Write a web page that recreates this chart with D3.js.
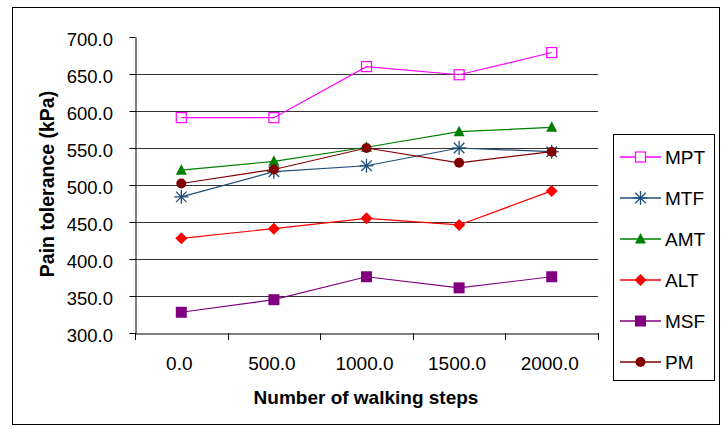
<!DOCTYPE html>
<html><head><meta charset="utf-8">
<script src="https://cdn.jsdelivr.net/npm/d3@7"></script>
<style>body{margin:0;background:#fff}svg{display:block}text{font-family:"Liberation Sans",Arial,sans-serif}</style>
</head><body><svg id="c" width="727" height="430"></svg>
<script>
const categories = ["0.0","500.0","1000.0","1500.0","2000.0"];
const yTicks = [300,350,400,450,500,550,600,650,700];
const MPT = [591,591,660,649,679];
const MTF = [484,518,526,550,545];
const AMT = [520,532,551,572,578];
const ALT = [428,441,455,446,492];
const MSF = [328,345,376,361,376];
const PM  = [502,521,550,530,545];
const seriesNames = ["MPT","MTF","AMT","ALT","MSF","PM"];
const seriesValues = [MPT,MTF,AMT,ALT,MSF,PM];
const colors = {MPT:"#FF00FF",MTF:"#1F4E79",AMT:"#008000",ALT:"#FF0000",MSF:"#800080",PM:"#800000"};

const svg = d3.select("#c");
svg.append("rect").attr("x",12.5).attr("y",7.5).attr("width",707).attr("height",417).attr("fill","none").attr("stroke","#000").attr("stroke-width",1);

const L=135, R=598, T=37, B=333;
const x = d3.scaleBand().domain(categories).range([L,R]);
const y = d3.scaleLinear().domain([300,700]).range([B,T]);

// gridlines
svg.append("g").selectAll("line").data(yTicks.filter(v=>v>300&&v<700)).join("line")
  .attr("x1",L).attr("x2",R).attr("y1",d=>Math.round(y(d))+0.5).attr("y2",d=>Math.round(y(d))+0.5)
  .attr("stroke","#333").attr("stroke-width",1);

// y axis
const ya = svg.append("g").attr("transform",`translate(${L+0.5},0)`)
  .call(d3.axisLeft(y).tickValues(yTicks).tickFormat(d3.format(".1f")).tickSize(6).tickSizeOuter(0));
ya.select(".domain").attr("stroke","#000");
ya.selectAll(".tick text").attr("font-size",18.5).attr("fill","#000").attr("x",-22.5).attr("dy","0.45em").attr("font-family","Liberation Sans, Arial");
ya.selectAll(".tick line").attr("stroke","#000");

// x axis
const xa = svg.append("g").attr("transform",`translate(0,${B+0.5})`)
  .call(d3.axisBottom(x).tickSize(0).tickSizeOuter(0));
xa.select(".domain").attr("stroke","#000");
xa.selectAll(".tick text").attr("font-size",19).attr("fill","#000").attr("dy",0).attr("y",36.5).attr("x",-2).attr("font-family","Liberation Sans, Arial");
// boundary ticks
const bounds = categories.map(c=>x(c)).concat([R]);
svg.append("g").selectAll("line").data(bounds).join("line")
  .attr("x1",d=>Math.round(d)+0.5).attr("x2",d=>Math.round(d)+0.5).attr("y1",B).attr("y2",B+7).attr("stroke","#000");

// titles
svg.append("text").attr("x",366).attr("y",404).attr("text-anchor","middle").attr("font-size",19).attr("font-weight","bold").text("Number of walking steps");
svg.append("text").attr("transform","translate(54,184) rotate(-90)").attr("text-anchor","middle").attr("font-size",19.5).attr("font-weight","bold").text("Pain tolerance (kPa)");

function marker(g, name, cx, cy, legend){
  const c = colors[name];
  if(name==="MPT"){
    g.append("rect").attr("x",cx-5).attr("y",cy-5).attr("width",10).attr("height",10).attr("fill","#fff").attr("fill-opacity",legend?1:0).attr("stroke",c).attr("stroke-width",1.2);
  } else if(name==="MTF"){
    const s=7;
    const p = g.append("g").attr("stroke",c).attr("stroke-width",1.3);
    p.append("line").attr("x1",cx-s).attr("x2",cx+s).attr("y1",cy).attr("y2",cy);
    p.append("line").attr("x1",cx).attr("x2",cx).attr("y1",cy-s).attr("y2",cy+s);
    p.append("line").attr("x1",cx-s*0.75).attr("x2",cx+s*0.75).attr("y1",cy-s*0.75).attr("y2",cy+s*0.75);
    p.append("line").attr("x1",cx-s*0.75).attr("x2",cx+s*0.75).attr("y1",cy+s*0.75).attr("y2",cy-s*0.75);
  } else if(name==="AMT"){
    g.append("path").attr("d",`M${cx},${cy-6}L${cx+5.5},${cy+4.5}L${cx-5.5},${cy+4.5}Z`).attr("fill",c);
  } else if(name==="ALT"){
    g.append("path").attr("d",`M${cx},${cy-6}L${cx+6},${cy}L${cx},${cy+6}L${cx-6},${cy}Z`).attr("fill",c);
  } else if(name==="MSF"){
    g.append("rect").attr("x",cx-5.5).attr("y",cy-5.5).attr("width",11).attr("height",11).attr("fill",c);
  } else if(name==="PM"){
    g.append("circle").attr("cx",cx).attr("cy",cy).attr("r",5).attr("fill",c);
  }
}

const line = d3.line().x((d,i)=>x(categories[i])+x.bandwidth()/2).y(d=>y(d));
seriesNames.forEach((name,k)=>{
  const vals = seriesValues[k];
  const g = svg.append("g");
  g.append("path").datum(vals).attr("d",line).attr("fill","none").attr("stroke",colors[name]).attr("stroke-width",1.2);
  vals.forEach((v,i)=>marker(g,name,x(categories[i])+x.bandwidth()/2,y(v),false));
});

// legend
svg.append("rect").attr("x",613.5).attr("y",134.5).attr("width",101).attr("height",246).attr("fill","#fff").attr("stroke","#000");
seriesNames.forEach((name,k)=>{
  const ly = 157 + k*41;
  const g = svg.append("g");
  g.append("line").attr("x1",620).attr("x2",661).attr("y1",ly).attr("y2",ly).attr("stroke",colors[name]).attr("stroke-width",1.3);
  marker(g,name,640.5,ly,true);
  g.append("text").attr("x",665).attr("y",ly+7).attr("font-size",19).text(name);
});
</script></body></html>
